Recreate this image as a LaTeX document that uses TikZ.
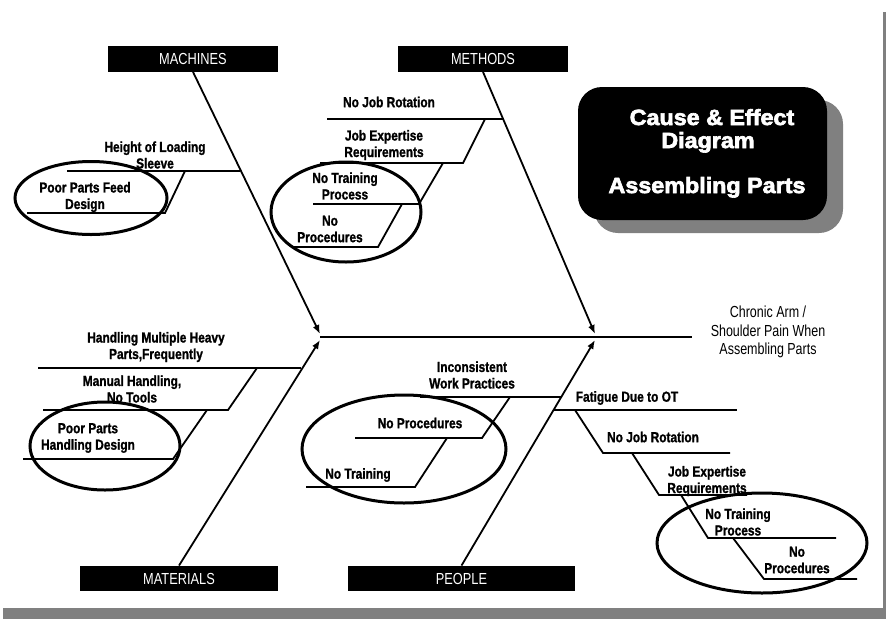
\documentclass[tikz,border=0pt]{standalone}
\usepackage{fontspec}
\setmainfont{Liberation Sans}
\newfontfamily\condfont[FakeStretch=0.82,FakeBold=1.2]{Liberation Sans}
\newfontfamily\catfont[FakeStretch=0.8]{Liberation Sans}
\newfontfamily\efffont[FakeStretch=0.78]{Liberation Sans}
\newfontfamily\heavyfont[FakeStretch=1.06,FakeBold=3]{Liberation Sans}
\usetikzlibrary{arrows.meta,shapes.geometric}
\definecolor{shadowgray}{RGB}{128,128,128}
\tikzset{
  catbox/.style={fill=black, text=white, minimum height=25.5pt, inner sep=0pt,
    font=\catfont\fontsize{16}{18}\selectfont},
  bone/.style={line width=1.8pt},
  twig/.style={line width=1.8pt},
  tipped/.style={line width=1.8pt, -{Latex[length=9pt,width=7pt]}},
  lbl/.style={font=\condfont\bfseries\fontsize{14.5}{16.5}\selectfont, align=center, inner sep=0pt},
  ring/.style={draw, ellipse, line width=3pt, inner sep=0pt},
  ttl/.style={text=white, anchor=base, inner sep=0pt, font=\heavyfont\bfseries\fontsize{22}{24}\selectfont},
}
\begin{document}
\begin{tikzpicture}[x=1pt,y=-1pt]
\useasboundingbox (0,0) rectangle (886,619);
% page frame shadow
\fill[shadowgray] (883,12) rectangle (886,619);
\fill[shadowgray] (3,608) rectangle (886,619);

% title
\node[fill=shadowgray, rounded corners=24pt, minimum width=249pt, minimum height=133pt, inner sep=0pt] (tshadow) at (718.5,166.5) {};
\node[fill=black, rounded corners=24pt, minimum width=249pt, minimum height=133pt, inner sep=0pt] (title) at (702.5,153.5) {};
\node[ttl] (tt1) at (712,125) {Cause \& Effect};
\node[ttl] (tt2) at (708,148) {Diagram};
\node[ttl] (tt3) at (707,193) {Assembling Parts};

% category boxes
\node[catbox, minimum width=170pt] (mach) at (193,59) {MACHINES};
\node[catbox, minimum width=170pt] (meth) at (483,59) {METHODS};
\node[catbox, minimum width=198pt] (mat) at (179,578.5) {MATERIALS};
\node[catbox, minimum width=227pt] (peo) at (461.5,578.5) {PEOPLE};

% spine
\coordinate (hL) at (320,337);
\coordinate (eff) at (692,337);
\draw[bone] (hL) -- (eff);
\coordinate (tipM) at (320,334);
\coordinate (tipT) at (595,334);
\coordinate (tipA) at (320,340);
\coordinate (tipP) at (595,340);
\draw[tipped] (mach.south) -- (tipM);
\draw[tipped] (meth.south) -- (tipT);
\draw[tipped] (mat.north) -- (tipA);
\draw[tipped] (peo.north) -- (tipP);

% effect text
\node[font=\efffont\fontsize{16}{18.5}\selectfont, align=center, inner sep=0pt] (effect) at (768,332)
  {Chronic Arm /\\Shoulder Pain When\\ Assembling Parts};

% ---------- Machines
\coordinate (m1a) at (67,171); \coordinate (m1b) at (240,171);
\coordinate (m2s) at (185,171); \coordinate (m2e) at (165,213); \coordinate (m2a) at (27,213);
\draw[twig] (m1a) -- (m1b);
\draw[twig] (m2s) -- (m2e) -- (m2a);
\node[lbl] (lm1) at (155,155) {Height of Loading\\Sleeve};
\node[lbl] (lm2) at (85,197) {Poor Parts Feed\\Design};
\node[ring, minimum width=152pt, minimum height=73pt] (em) at (91,198) {};

% ---------- Methods
\coordinate (t1a) at (327,119); \coordinate (t1b) at (503,119);
\coordinate (t2s) at (485,119); \coordinate (t2e) at (463,163); \coordinate (t2a) at (320,163);
\coordinate (t3s) at (443,163); \coordinate (t3e) at (419,204); \coordinate (t3a) at (313,204);
\coordinate (t4s) at (402,204); \coordinate (t4e) at (378,247); \coordinate (t4a) at (293,247);
\draw[twig] (t1a) -- (t1b);
\draw[twig] (t2s) -- (t2e) -- (t2a);
\draw[twig] (t3s) -- (t3e) -- (t3a);
\draw[twig] (t4s) -- (t4e) -- (t4a);
\node[lbl] (lt1) at (389,102) {No Job Rotation};
\node[lbl] (lt2) at (384,145) {Job Expertise\\Requirements};
\node[lbl] (lt3) at (345,186) {No Training\\Process};
\node[lbl] (lt4) at (330,229) {No\\Procedures};
\node[ring, minimum width=150pt, minimum height=100pt] (et) at (346,212) {};

% ---------- Materials
\coordinate (a1a) at (38,368); \coordinate (a1b) at (301,368);
\coordinate (a2s) at (257,368); \coordinate (a2e) at (228,410); \coordinate (a2a) at (43,410);
\coordinate (a3s) at (207,410); \coordinate (a3e) at (173,459); \coordinate (a3a) at (23,459);
\draw[twig] (a1a) -- (a1b);
\draw[twig] (a2s) -- (a2e) -- (a2a);
\draw[twig] (a3s) -- (a3e) -- (a3a);
\node[lbl] (la1) at (156,347) {Handling Multiple Heavy\\Parts,Frequently};
\node[lbl] (la2) at (132,389) {Manual Handling,\\No Tools};
\node[lbl] (la3) at (88,438) {Poor Parts\\Handling Design};
\node[ring, minimum width=150pt, minimum height=88pt] (ea) at (105,446) {};

% ---------- People (left)
\coordinate (p1a) at (420,397); \coordinate (p1b) at (561,397);
\coordinate (p2s) at (510,397); \coordinate (p2e) at (482,438); \coordinate (p2a) at (355,438);
\coordinate (p3s) at (447,438); \coordinate (p3e) at (415,487); \coordinate (p3a) at (306,487);
\draw[twig] (p1a) -- (p1b);
\draw[twig] (p2s) -- (p2e) -- (p2a);
\draw[twig] (p3s) -- (p3e) -- (p3a);
\node[lbl] (lp1) at (472,375) {Inconsistent\\Work Practices};
\node[lbl] (lp2) at (420,423) {No Procedures};
\node[lbl] (lp3) at (358,475) {No Training};
\node[ring, minimum width=204pt, minimum height=108pt] (ep) at (404,449) {};

% ---------- People (right)
\coordinate (f1a) at (553,410); \coordinate (f1b) at (737,410);
\coordinate (f2s) at (575,410); \coordinate (f2e) at (603,453); \coordinate (f2b) at (730,453);
\coordinate (f3s) at (632,453); \coordinate (f3e) at (659,495); \coordinate (f3b) at (747,495);
\coordinate (f4s) at (681,495); \coordinate (f4e) at (708,538); \coordinate (f4b) at (836,538);
\coordinate (f5s) at (733,538); \coordinate (f5e) at (764,579); \coordinate (f5b) at (857,579);
\draw[twig] (f1a) -- (f1b);
\draw[twig] (f2s) -- (f2e) -- (f2b);
\draw[twig] (f3s) -- (f3e) -- (f3b);
\draw[twig] (f4s) -- (f4e) -- (f4b);
\draw[twig] (f5s) -- (f5e) -- (f5b);
\node[lbl] (lf1) at (627,398) {Fatigue Due to OT};
\node[lbl] (lf2) at (653,437) {No Job Rotation};
\node[lbl] (lf3) at (707,481) {Job Expertise\\Requirements};
\node[lbl] (lf4) at (738,522) {No Training\\Process};
\node[lbl] (lf5) at (797,560) {No\\Procedures};
\node[ring, minimum width=210pt, minimum height=100pt] (ef) at (762,543) {};
\end{tikzpicture}
\end{document}
